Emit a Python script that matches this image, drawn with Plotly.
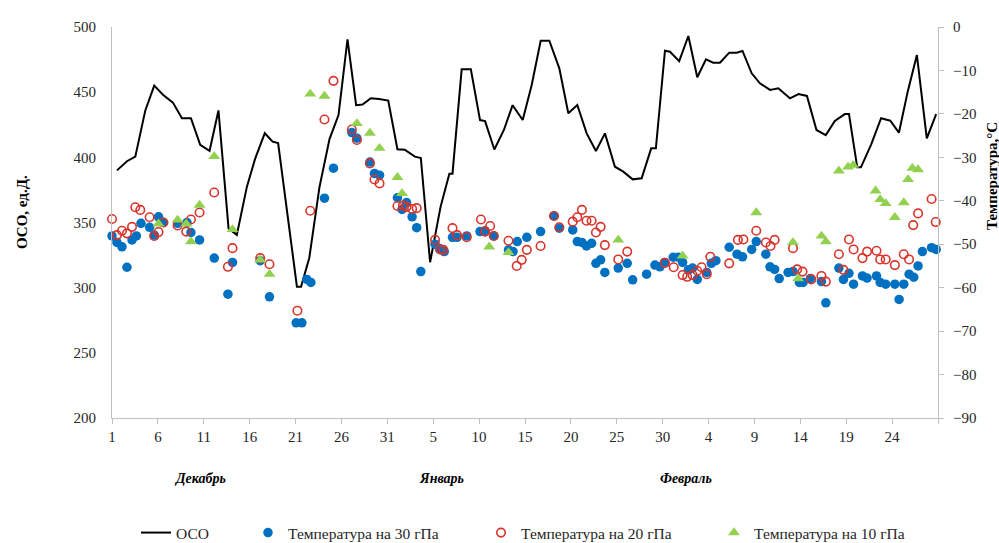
import plotly.graph_objects as go

# Day offsets are counted from 1 December (0 = start of 1 Dec); winter of a leap year, 91 days shown.
day_ticks = list(range(0, 91, 5))
day_labels = ["1", "6", "11", "16", "21", "26", "31", "5", "10", "15", "20",
              "25", "30", "4", "9", "14", "19", "24", ""]
month_names = ["Декабрь", "Январь", "Февраль"]
month_pos = [9.6, 35.9, 62.5]

# Total ozone (OCO), Dobson units
oco_day = [0.54, 1.63, 2.54, 3.63, 4.6, 5.55, 6.64, 7.62, 8.6, 9.61, 10.63, 11.6, 12.7, 13.6,
           14.7, 15.6, 16.65, 17.5, 18.1, 20.15, 20.6, 21.5, 22.6, 23.7, 24.68, 25.66, 26.6,
           27.3, 28.2, 29.1, 30.1, 31.1, 31.9, 33.0, 33.65, 34.66, 35.8, 36.76, 37.1, 38.1,
           39.1, 40.1, 40.65, 41.66, 42.7, 43.65, 44.75, 45.73, 46.71, 47.65, 48.74, 49.72,
           50.7, 51.72, 52.73, 53.71, 54.8, 55.71, 56.73, 57.71, 58.75, 59.26, 60.25, 60.8,
           61.8, 62.8, 63.77, 64.72, 65.5, 66.24, 67.26, 68.06, 68.7, 69.7, 70.6, 71.7, 72.6,
           73.87, 74.8, 75.72, 76.76, 77.77, 78.76, 79.85, 80.3, 81.2, 81.6, 82.7, 83.8,
           84.8, 85.74, 86.7, 87.7, 88.78, 89.8]
oco = [390, 397, 400.5, 436, 455, 448, 442, 430, 430, 409.5, 405, 436, 345.5, 340.5,
       377.5, 399, 418.5, 412, 411, 300.7, 300.7, 323, 377, 414, 432.4, 490.5, 440,
       440.5, 445.3, 444.8, 443.5, 406.2, 405.8, 400.5, 399.5, 319.5, 362, 387.5, 387.5, 467.5,
       467.5, 428.6, 427.8, 406, 421, 440, 428.6, 455.5, 489.5, 489.5, 468.3, 433.8,
       440.2, 418.4, 404.9, 418.4, 392.8, 389, 383.1, 383.9, 406.9, 406.9, 481.8, 481,
       473.8, 493.1, 461.4, 475.2, 472.6, 472.6, 480.3, 480.3, 481.6, 464.5, 456.8, 451.7, 453,
       445.3, 448.6, 447.1, 421, 417.1, 427.9, 433.2, 433.2, 392.3, 392.3, 409.5, 430,
       428.1, 418.9, 450.4, 478.5, 414.6, 433.2]

# Temperature at 30 hPa, deg C
t30_day = [0.0, 0.54, 1.09, 1.63, 2.18, 2.65, 3.16, 4.1, 4.6, 5.07, 5.6, 7.15, 8.17, 8.6,
           9.54, 11.14, 12.63, 13.13, 16.15, 17.16, 20.07, 20.69, 21.23, 21.67, 23.15, 24.13,
           26.13, 26.68, 28.1, 28.6, 29.15, 31.1, 31.6, 32.1, 32.7, 33.2, 33.65, 35.2, 35.7,
           36.2, 37.1, 37.6, 38.65, 40.1, 40.65, 41.6, 43.2, 43.7, 44.16, 45.2, 46.7, 48.16,
           48.74, 50.2, 50.7, 51.2, 51.7, 52.26, 52.73, 53.24, 53.7, 55.16, 56.14, 56.73,
           58.25, 59.16, 59.7, 60.2, 61.15, 61.7, 62.17, 62.8, 63.26, 63.77, 64.8, 65.3, 65.8,
           67.25, 68.1, 68.7, 69.7, 70.2, 71.24, 71.7, 72.2, 72.7, 73.67, 74.2, 74.9, 75.3,
           76.1, 77.3, 77.78, 79.2, 79.7, 80.3, 80.8, 81.77, 82.27, 83.3, 83.7, 84.3, 85.3,
           85.76, 86.27, 86.85, 87.36, 87.83, 88.3, 89.3, 89.8]
t30 = [-48.1, -49.6, -50.6, -55.3, -49.0, -48.1, -45.2, -46.1, -47.9, -43.7, -45.0, -45.2,
       -45.0, -47.3, -49.0, -53.2, -61.5, -54.2, -53.8, -62.1, -68.1, -68.1, -58.1, -58.8,
       -39.4, -32.5, -24.3, -25.6, -31.1, -33.7, -34.1, -39.3, -42.0, -40.4, -43.7, -46.2,
       -56.3, -50.0, -51.0, -51.7, -48.4, -48.4, -48.1, -47.1, -46.9, -48.1, -51.3, -51.7,
       -49.4, -48.4, -47.1, -43.5, -46.3, -46.7, -49.4, -49.6, -50.4, -49.8, -54.4, -53.6,
       -56.5, -55.5, -54.4, -58.2, -56.9, -54.8, -55.2, -54.2, -53.0, -53.0, -54.2, -55.9,
       -55.5, -58.1, -56.5, -54.4, -53.8, -50.7, -52.3, -52.9, -51.2, -49.4, -52.3, -55.2,
       -55.8, -57.9, -56.5, -56.3, -58.8, -58.8, -57.9, -58.6, -63.5, -55.5, -58.1, -56.7,
       -59.2, -57.3, -57.8, -57.3, -58.8, -59.2, -59.2, -62.7, -59.2, -56.9, -57.6, -55.0,
       -51.7, -50.8, -51.2]

# Temperature at 20 hPa, deg C
t20_day = [0.0, 0.54, 1.09, 1.63, 2.18, 2.54, 3.08, 4.1, 4.6, 5.07, 5.6, 7.15, 8.09, 8.6,
           9.54, 11.14, 12.63, 13.13, 16.15, 17.16, 20.2, 21.6, 23.15, 24.13, 26.13, 26.68,
           28.1, 28.6, 29.15, 31.1, 31.7, 32.1, 32.7, 33.2, 35.2, 35.75, 36.1, 37.1, 37.6,
           38.65, 40.2, 40.65, 41.2, 41.6, 43.2, 44.1, 44.64, 45.2, 46.7, 48.16, 48.74, 50.2,
           50.7, 51.2, 51.7, 52.26, 52.73, 53.24, 53.7, 55.16, 56.14, 60.25, 61.2, 62.17,
           62.67, 63.26, 63.77, 64.24, 64.8, 65.2, 67.25, 68.2, 68.8, 70.2, 71.24, 71.75, 72.2,
           74.2, 74.65, 75.24, 76.2, 77.3, 77.78, 79.2, 79.7, 80.3, 80.8, 81.77, 82.27, 83.3,
           83.7, 84.3, 85.3, 86.27, 86.85, 87.3, 87.83, 89.3, 89.75]
t20 = [-44.2, -47.9, -46.9, -47.5, -46.0, -41.5, -42.1, -43.8, -48.1, -47.2, -45.0, -45.7,
       -47.1, -44.3, -42.7, -38.1, -55.2, -50.9, -53.2, -54.6, -65.3, -42.3, -21.3, -12.4,
       -23.6, -26.0, -31.4, -35.1, -36.0, -41.2, -41.1, -41.4, -41.9, -41.7, -49.0, -51.2,
       -51.3, -46.3, -47.9, -48.4, -44.3, -47.1, -45.8, -48.1, -49.2, -55.0, -53.6, -51.3,
       -50.4, -43.5, -46.1, -44.8, -43.8, -42.1, -44.6, -44.6, -47.3, -46.0, -50.2, -53.5,
       -51.7, -54.3, -55.3, -57.1, -57.5, -57.1, -56.1, -55.3, -56.9, -52.9, -54.4, -49.0,
       -48.9, -46.9, -49.6, -50.4, -49.0, -50.9, -55.8, -56.3, -58.1, -57.3, -58.6, -52.3,
       -55.9, -48.9, -51.2, -53.2, -51.7, -51.5, -53.5, -53.5, -54.8, -52.3, -53.5, -45.6,
       -42.9, -39.6, -44.9]

# Temperature at 10 hPa, deg C
t10_day = [5.07, 7.15, 8.09, 8.6, 9.54, 11.14, 13.13, 16.15, 17.16, 21.6, 23.15, 26.68,
           28.1, 29.15, 31.1, 31.6, 41.1, 43.2, 55.16, 62.17, 70.2, 74.2, 74.76, 77.3, 77.78,
           79.2, 80.2, 80.75, 83.2, 83.7, 84.3, 85.3, 86.27, 86.74, 87.2, 87.83]
t10 = [-45.3, -44.4, -45.3, -49.4, -41.0, -29.8, -46.6, -53.6, -56.9, -15.4, -15.9, -22.2,
       -24.4, -27.9, -34.6, -38.3, -50.6, -51.9, -49.0, -52.7, -42.7, -49.6, -57.9, -48.1,
       -49.4, -33.1, -32.2, -31.8, -37.7, -39.7, -40.6, -43.8, -40.4, -35.1, -32.5, -32.8]

SERIF = "Liberation Serif, Times New Roman, serif"
TEXT = "#262626"
AXIS = "#BFBFBF"

fig = go.Figure()

fig.add_trace(go.Scatter(
    x=oco_day, y=oco, mode="lines", name="ОСО",
    line=dict(color="black", width=2), yaxis="y", legend="legend"))

fig.add_trace(go.Scatter(
    x=t30_day, y=t30, mode="markers", name="Температура на 30 гПа", yaxis="y2",
    marker=dict(symbol="circle", size=9.5, color="#0070C0", line=dict(width=0)),
    cliponaxis=False, legend="legend2"))

fig.add_trace(go.Scatter(
    x=t20_day, y=t20, mode="markers", name="Температура на 20 гПа", yaxis="y2",
    marker=dict(symbol="circle-open", size=8.5, color="#D9342B", line=dict(width=1.6)),
    cliponaxis=False, legend="legend3"))

fig.add_trace(go.Scatter(
    x=t10_day, y=t10, mode="markers", name="Температура на 10 гПа", yaxis="y2",
    marker=dict(symbol="triangle-up", size=10.5, color="#92D050", line=dict(width=0)),
    cliponaxis=False, legend="legend4"))

# plot area spans 112..938 px horizontally and 27..418 px vertically
PL, PR, PT, PB = 112, 938, 27, 418


def px_x(px):
    return (px - PL) / (PR - PL)


def px_y(py):
    return (PB - py) / (PB - PT)


legend_font = dict(family=SERIF, size=15.5, color=TEXT)


def legend_at(left_px):
    return dict(x=px_x(left_px), y=px_y(533), xanchor="left", yanchor="middle",
                orientation="h", bgcolor="rgba(0,0,0,0)", font=legend_font,
                itemwidth=30, borderwidth=0)


annotations = [
    dict(text="<b>ОСО, ед.Д.</b>", textangle=-90, x=px_x(22), y=px_y(212),
         xref="paper", yref="paper", xanchor="center", yanchor="middle", showarrow=False,
         font=dict(family=SERIF, size=15, color="black")),
    dict(text="<b>Температура,°С</b>", textangle=-90, x=px_x(992), y=px_y(176),
         xref="paper", yref="paper", xanchor="center", yanchor="middle", showarrow=False,
         font=dict(family=SERIF, size=15, color="black")),
]
for name, pos in zip(month_names, month_pos):
    annotations.append(dict(
        text=f"<b><i>{name}</i></b>", x=pos, y=px_y(478), xref="x", yref="paper",
        xanchor="center", yanchor="middle",
        showarrow=False, font=dict(family=SERIF, size=14, color="black")))

fig.update_layout(
    width=999, height=543,
    margin=dict(l=PL, r=999 - PR, t=PT, b=543 - PB, autoexpand=False),
    paper_bgcolor="white", plot_bgcolor="white",
    font=dict(family=SERIF, size=15, color=TEXT),
    xaxis=dict(range=[0, 90], tickmode="array", tickvals=day_ticks, ticktext=day_labels,
               showline=True, linecolor=AXIS, linewidth=1, ticks="outside", ticklen=5,
               tickcolor=AXIS, showgrid=False, zeroline=False, automargin=False,
               tickfont=dict(family=SERIF, size=15, color=TEXT)),
    yaxis=dict(range=[200, 500], dtick=50, showline=True, linecolor=AXIS, linewidth=1,
               ticks="", showgrid=False, zeroline=False, ticklabelstandoff=12,
               automargin=False, tickfont=dict(family=SERIF, size=15, color=TEXT)),
    yaxis2=dict(range=[-90, 0], dtick=10, overlaying="y", side="right", showline=True,
                linecolor=AXIS, linewidth=1, ticks="outside", ticklen=5, tickcolor=AXIS,
                showgrid=False, zeroline=False, ticklabelstandoff=6, automargin=False,
                tickfont=dict(family=SERIF, size=15, color=TEXT)),
    legend=legend_at(136),
    legend2=legend_at(248),
    legend3=legend_at(481),
    legend4=legend_at(714),
    annotations=annotations,
    showlegend=True,
)

fig.write_html("out.html")
